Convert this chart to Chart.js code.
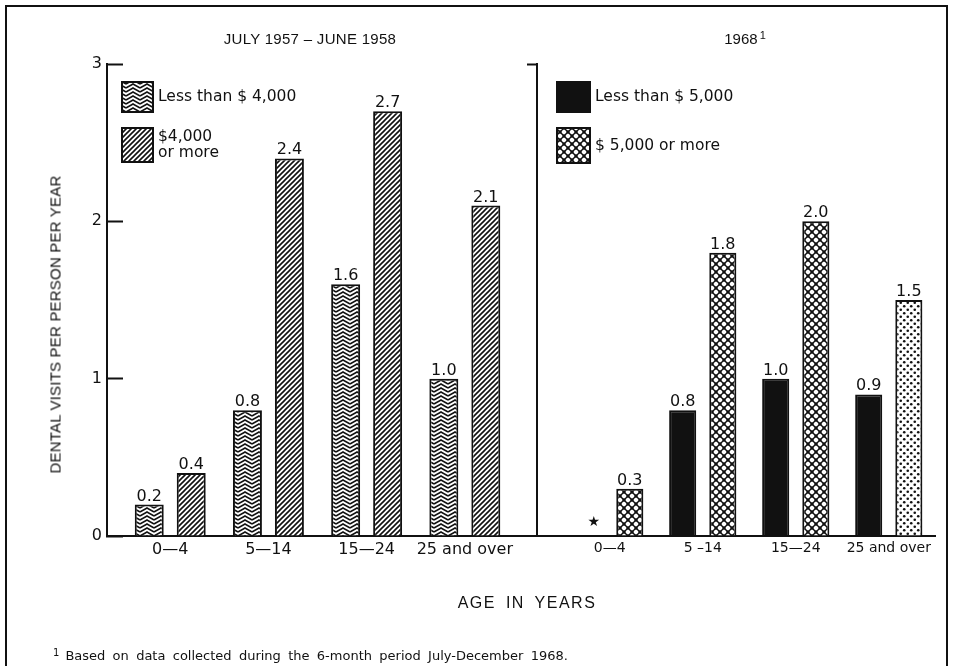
<!DOCTYPE html>
<html>
<head>
<meta charset="utf-8">
<title>Dental visits per person per year, by family income and age</title>
<script src="https://cdn.jsdelivr.net/npm/chart.js@4.4.1/dist/chart.umd.min.js"></script>
<style>
  body { margin: 0; background: #fff; }
  #page { position: relative; width: 955px; height: 666px; overflow: hidden; background: #fff; color: #111; font-family: 'DejaVu Sans', sans-serif; }
  #frame { position: absolute; left: 5px; top: 5px; width: 943px; height: 700px; border: 2px solid #111; box-sizing: border-box; }
  canvas { position: absolute; top: 0; }
  #c5758 { left: 0; }
  #c68 { left: 500px; }
  .txt { position: absolute; white-space: nowrap; line-height: 20px; z-index: 2; }
  #t5758 { left: 160px; width: 300px; top: 30px; text-align: center; font: 15px 'Liberation Sans', sans-serif; letter-spacing: 0.3px; }
  #t68 { left: 645px; width: 200px; top: 30px; text-align: center; font: 15px 'Liberation Sans', sans-serif; }
  #t68 span { font-size: 11px; position: relative; top: -5px; margin-left: 2px; }
  #ytitle { left: -115px; top: 316px; width: 340px; text-align: center; transform: rotate(-90deg); font: 15px 'Liberation Sans', sans-serif; letter-spacing: 0.2px; }
  #xtitle { left: 427px; width: 200px; top: 594px; text-align: center; font: 16px 'Liberation Sans', sans-serif; letter-spacing: 1.5px; word-spacing: 4px; }
  #note { left: 53px; top: 646px; font-size: 13px; word-spacing: 3.2px; }
  #note span { font-size: 10px; position: relative; top: -4px; margin-right: 6px; }
</style>
</head>
<body>
<div id="page">
  <div id="frame"></div>
  <canvas id="c5758" width="540" height="666"></canvas>
  <canvas id="c68" width="455" height="666"></canvas>
  <div class="txt" id="t5758">JULY 1957 – JUNE 1958</div>
  <div class="txt" id="t68">1968<span>1</span></div>
  <div class="txt" id="ytitle">DENTAL VISITS PER PERSON PER YEAR</div>
  <div class="txt" id="xtitle">AGE IN YEARS</div>
  <div class="txt" id="note"><span>1</span>Based on data collected during the 6-month period July-December 1968.</div>
</div>

<script>
// age groups and visits per person per year
const ageGroups = ['0—4', '5—14', '15—24', '25 and over'];
const ageGroups68 = ['0—4', '5 –14', '15—24', '25 and over'];
const low5758 = [0.2, 0.8, 1.6, 1.0];
const high5758 = [0.4, 2.4, 2.7, 2.1];
const low68 = [null, 0.8, 1.0, 0.9];   // 0-4 shown only as a star
const high68 = [0.3, 1.8, 2.0, 1.5];
const yTicks = [0, 1, 2, 3];
const legend5758 = ['Less than $ 4,000', '$4,000\nor more'];
const legend68 = ['Less than $ 5,000', '$ 5,000 or more'];
const missingMark = '\u2605';

const ink = '#111';
const font = 'DejaVu Sans';

function makePattern(w, h, draw) {
    const c = document.createElement('canvas');
    c.width = w;
    c.height = h;
    const g = c.getContext('2d');
    g.fillStyle = '#fff';
    g.fillRect(0, 0, w, h);
    g.strokeStyle = ink;
    g.fillStyle = ink;
    draw(g, w, h);
    return g.createPattern(c, 'repeat');
}

const zigzag = makePattern(14, 4, g => {
    g.lineWidth = 1.6;
    g.beginPath();
    for (let k = -2; k <= 2; k++) {
        const y0 = k * 4 + 2;
        g.moveTo(0, y0 + 2);
        g.lineTo(7, y0 - 2);
        g.lineTo(14, y0 + 2);
    }
    g.stroke();
});

const hatch = makePattern(5, 5, (g, w) => {
    g.lineWidth = 1.6;
    g.beginPath();
    for (let k = -1; k <= 1; k++) {
        g.moveTo(k * w - 1, w + 1);
        g.lineTo(k * w + w + 1, -1);
    }
    g.stroke();
});

const cross = makePattern(8, 8, g => {
    g.lineWidth = 1.4;
    g.beginPath();
    g.moveTo(0, 0); g.lineTo(8, 8);
    g.moveTo(0, 8); g.lineTo(8, 0);
    g.stroke();
    [[0, 0], [8, 0], [0, 8], [8, 8], [4, 4]].forEach(([x, y]) => {
        g.beginPath();
        g.arc(x, y, 1.7, 0, Math.PI * 2);
        g.fill();
    });
});

const dots = makePattern(7, 7, g => {
    [[1.75, 1.75], [5.25, 5.25]].forEach(([x, y]) => {
        g.beginPath();
        g.arc(x, y, 1.3, 0, Math.PI * 2);
        g.fill();
    });
});

const toPoints = values => values.map((v, i) => ({ x: i, y: v }));

// numbers over the bars, star for the missing one
const valueLabels = {
    id: 'valueLabels',
    afterDatasetsDraw(chart) {
        const ctx = chart.ctx;
        ctx.save();
        ctx.fillStyle = ink;
        ctx.textAlign = 'center';
        chart.data.datasets.forEach((ds, di) => {
            chart.getDatasetMeta(di).data.forEach((bar, i) => {
                const v = ds.data[i].y;
                if (v === null) {
                    ctx.font = '14px "' + font + '"';
                    ctx.textBaseline = 'middle';
                    ctx.fillText(missingMark, bar.x + 4, bar.y - 14);
                } else {
                    ctx.font = '16px "' + font + '"';
                    ctx.textBaseline = 'alphabetic';
                    ctx.fillText(v.toFixed(1), bar.x, bar.y - 4);
                }
            });
        });
        ctx.restore();
    }
};

// boxed legend inside the top left of each panel
const panelLegend = {
    id: 'panelLegend',
    afterDraw(chart, args, opts) {
        const { ctx, chartArea } = chart;
        ctx.save();
        ctx.font = '15.5px "' + font + '"';
        ctx.fillStyle = ink;
        ctx.textBaseline = 'middle';
        chart.data.datasets.forEach((ds, i) => {
            const x = chartArea.left + opts.left;
            const y = chartArea.top + opts.rows[i];
            const h = opts.heights[i];
            const fill = Array.isArray(ds.backgroundColor) ? ds.backgroundColor[0] : ds.backgroundColor;
            ctx.fillStyle = fill;
            ctx.fillRect(x, y, opts.width, h);
            ctx.lineWidth = 2;
            ctx.strokeStyle = ink;
            ctx.strokeRect(x, y, opts.width, h);
            ctx.fillStyle = ink;
            const lines = ds.label.split('\n');
            const mid = y + h / 2;
            lines.forEach((line, j) => {
                ctx.fillText(line, x + opts.width + 5, mid + (j - (lines.length - 1) / 2) * 16);
            });
        });
        ctx.restore();
    }
};

function panel(canvasId, labels, datasets, opts) {
    return new Chart(document.getElementById(canvasId), {
        type: 'bar',
        data: { datasets },
        plugins: [valueLabels, panelLegend],
        options: {
            responsive: false,
            animation: false,
            layout: { padding: { top: 64, right: opts.padRight, bottom: 0, left: 0 } },
            datasets: { bar: { categoryPercentage: opts.catPct, barPercentage: opts.barPct } },
            plugins: {
                legend: { display: false },
                tooltip: { enabled: false },
                panelLegend: opts.legend
            },
            scales: {
                x: {
                    type: 'linear',
                    min: opts.xMin,
                    max: opts.xMax,
                    offset: false,
                    afterBuildTicks: s => { s.ticks = labels.map((_, i) => ({ value: i })); },
                    afterFit: s => { s.height = 130; },
                    grid: { display: false, drawTicks: false, offset: false },
                    border: { color: ink, width: 2 },
                    ticks: {
                        padding: 4,
                        color: ink,
                        font: { family: font, size: opts.catSize },
                        maxRotation: 0,
                        callback: v => labels[v]
                    }
                },
                y: {
                    min: 0,
                    max: 3,
                    afterBuildTicks: s => { s.ticks = yTicks.map(v => ({ value: v })); },
                    afterFit: s => { s.width = opts.yWidth; },
                    grid: {
                        drawOnChartArea: false,
                        tickLength: opts.tickLength,
                        tickWidth: 2,
                        tickColor: opts.tickColor
                    },
                    border: { color: ink, width: 2 },
                    ticks: {
                        display: opts.showTicks,
                        padding: 21,
                        color: ink,
                        font: { family: font, size: 16 }
                    }
                }
            }
        }
    });
}

panel('c5758', ageGroups, [
    { label: legend5758[0], data: toPoints(low5758), backgroundColor: zigzag, borderColor: ink, borderWidth: 2 },
    { label: legend5758[1], data: toPoints(high5758), backgroundColor: hatch, borderColor: ink, borderWidth: 2 }
], {
    padRight: 3, yWidth: 107, xMin: -0.644, xMax: 3.735,
    catPct: 0.855, barPct: 0.69, catSize: 16,
    tickLength: -16, tickColor: ink, showTicks: true,
    legend: { left: 15, rows: [18, 64], heights: [30, 34], width: 31 }
});

panel('c68', ageGroups68, [
    { label: legend68[0], data: toPoints(low68), backgroundColor: ink, borderColor: ink, borderWidth: 2 },
    { label: legend68[1], data: toPoints(high68), backgroundColor: [cross, cross, cross, dots], borderColor: ink, borderWidth: 2 }
], {
    padRight: 20, yWidth: 37, xMin: -0.782, xMax: 3.497,
    catPct: 0.863, barPct: 0.675, catSize: 14,
    tickLength: 10, tickColor: c => c.tick && c.tick.value === 3 ? ink : 'rgba(0,0,0,0)', showTicks: false,
    legend: { left: 20, rows: [18, 64], heights: [30, 35], width: 33 }
});
</script>
</body>
</html>
